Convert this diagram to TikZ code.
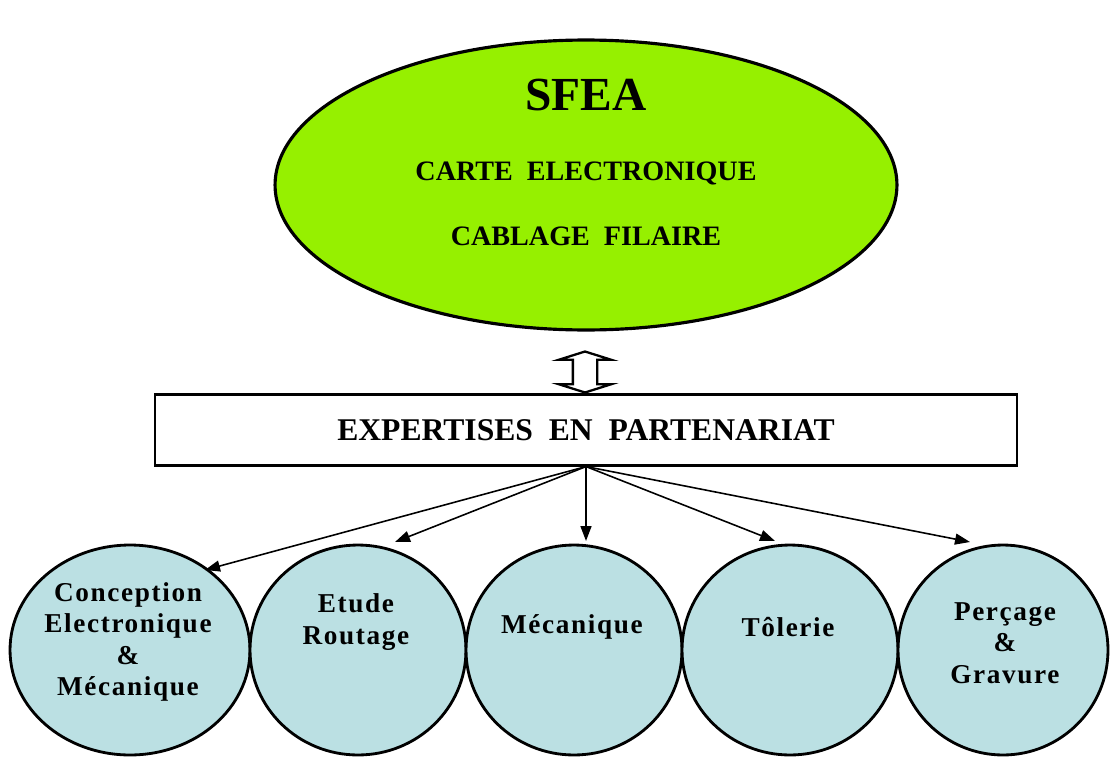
\documentclass[tikz,border=0pt]{standalone}
\usepackage{fontspec}
\setmainfont{Liberation Serif}
\usetikzlibrary{shapes.geometric, shapes.arrows, arrows.meta}
\definecolor{vertsfea}{RGB}{150,240,0}
\definecolor{bleupart}{RGB}{187,224,227}
\tikzstyle{societe} = [ellipse, draw=black, line width=1.8pt, fill=vertsfea, minimum width=12.44cm, minimum height=5.8cm]
\tikzstyle{cadre} = [rectangle, draw=black, line width=1.2pt, fill=white, minimum width=17.26cm, minimum height=1.42cm, font=\bfseries\fontsize{18}{20}\selectfont]
\tikzstyle{metier} = [ellipse, draw=black, line width=1.6pt, fill=bleupart, minimum width=4.32cm, minimum height=4.2cm]
\tikzstyle{etiquette} = [align=center, inner sep=0pt, font=\bfseries\addfontfeature{LetterSpace=6}\fontsize{15.5}{18}\selectfont]
\tikzstyle{titre} = [align=center, inner sep=0pt, font=\bfseries\fontsize{16}{18}\selectfont]
\tikzstyle{arrow} = [line width=0.9pt, -{Triangle[length=0.3cm, width=0.22cm]}]

\begin{document}
\begin{tikzpicture}[x=0.02cm, y=-0.02cm]
	\useasboundingbox (0,0) rectangle (1111,757);

	\node (sfea) [societe] at (586,185) {};
	\node (nom) [titre, font=\bfseries\fontsize{27}{30}\selectfont] at (586,95) {SFEA};
	\node (carte) [titre] at (586,173) {CARTE\ \ ELECTRONIQUE};
	\node (cablage) [titre] at (586,236) {CABLAGE\ \ FILAIRE};

	\node (expertise) [cadre] at (586,430) {EXPERTISES\ \ EN\ \ PARTENARIAT};
	\node (lien) [double arrow, draw=black, line width=1.3pt, fill=white, rotate=90, minimum height=0.82cm, minimum width=1cm, inner sep=0.22cm, double arrow head extend=0.28cm, double arrow tip angle=145] at (585,372) {};

	\node (conception) [metier, minimum width=4.8cm] at (130,650) {};
	\node (etude) [metier] at (358,650) {};
	\node (mecanique) [metier] at (574,650) {};
	\node (tolerie) [metier] at (790,650) {};
	\node (percage) [metier, minimum width=4.2cm] at (1003,650) {};

	\node (txtconception) [etiquette] at (128,642) {Conception\\Electronique\\\&\\Mécanique};
	\node (txtetude) [etiquette] at (356,622) {Etude\\Routage};
	\node (txtmecanique) [etiquette] at (572,627) {Mécanique};
	\node (txttolerie) [etiquette] at (788,627) {Tôlerie};
	\node (txtpercage) [etiquette] at (1005,643) {Perçage\\\&\\Gravure};

	\coordinate (t1) at (205,570);
	\coordinate (t2) at (395,542);
	\coordinate (t3) at (586,541);
	\coordinate (t4) at (775,541);
	\coordinate (t5) at (970,542);

	\draw [arrow] (expertise.south) -- (t1);
	\draw [arrow] (expertise.south) -- (t2);
	\draw [arrow] (expertise.south) -- (t3);
	\draw [arrow] (expertise.south) -- (t4);
	\draw [arrow] (expertise.south) -- (t5);
\end{tikzpicture}
\end{document}
